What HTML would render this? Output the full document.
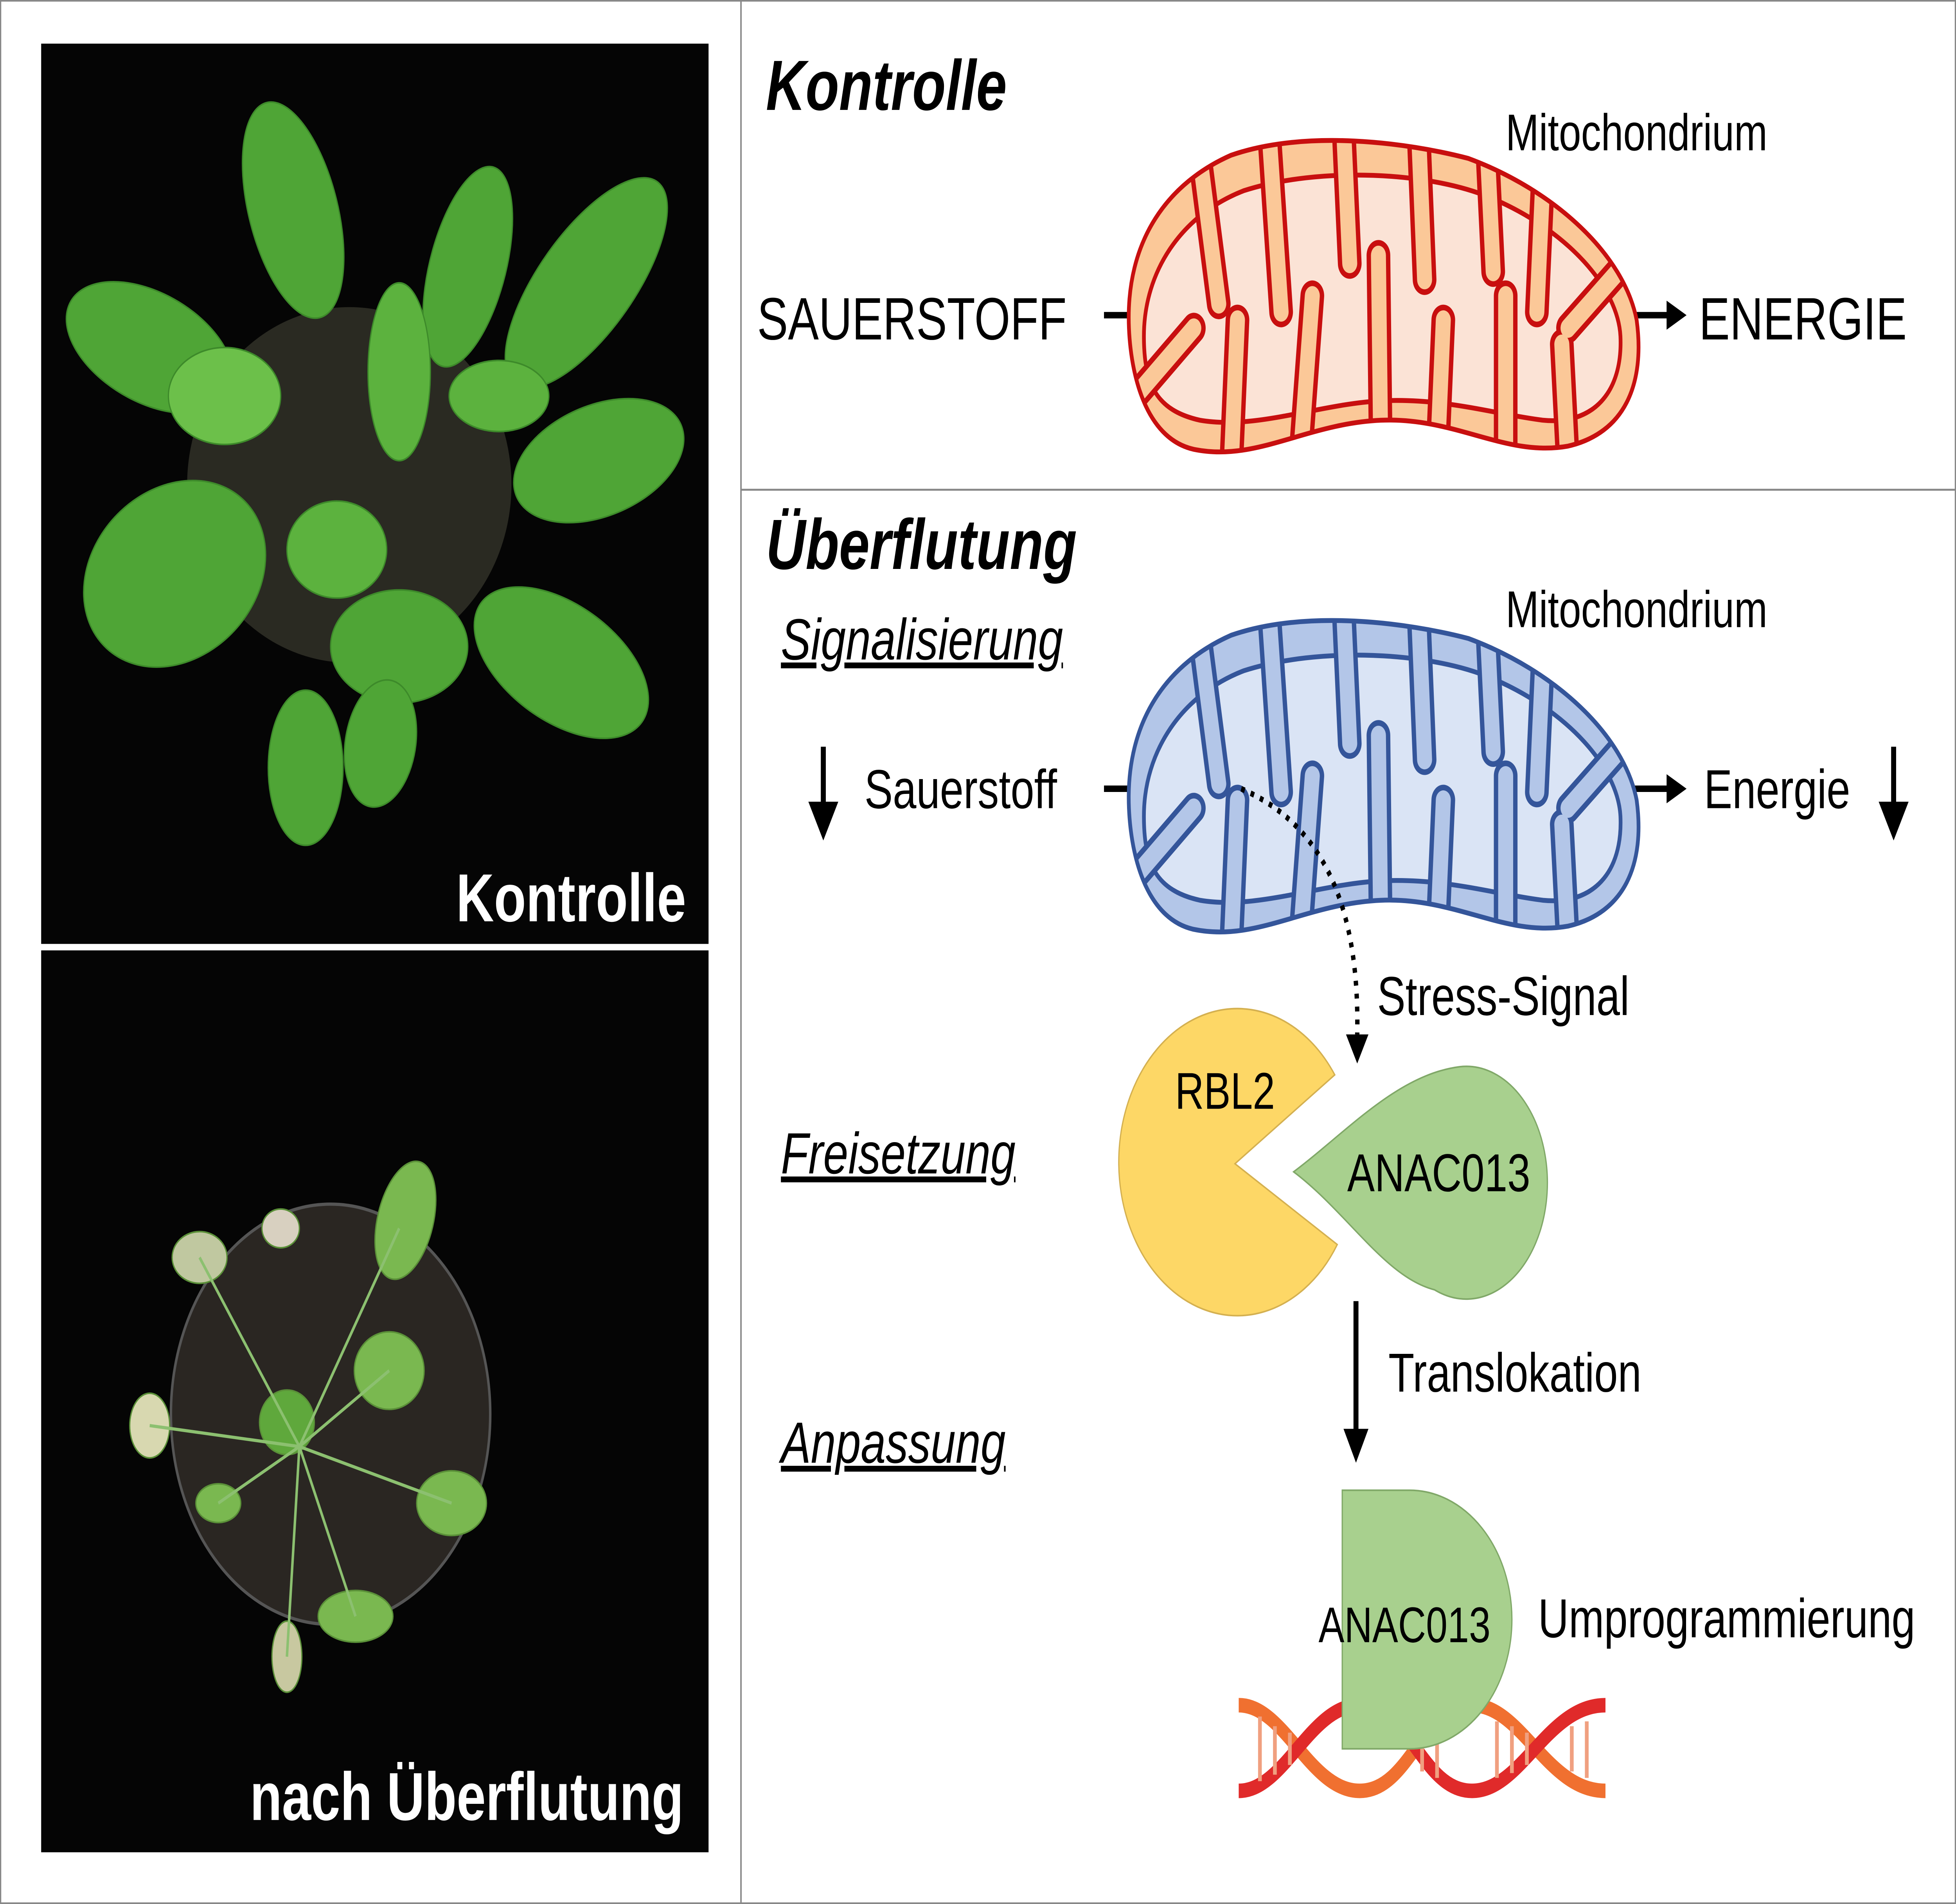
<!DOCTYPE html>
<html><head><meta charset="utf-8"><style>
html,body{margin:0;padding:0;background:#fff;overflow:hidden;width:100%;height:100%;}
svg{display:block;width:100vw;height:100vh;}
text{font-family:"Liberation Sans",Arial,sans-serif;}
</style></head><body>
<svg viewBox="0 0 1568 1178" preserveAspectRatio="none" xmlns="http://www.w3.org/2000/svg">
<defs>
<path id="mshape" d="M-202,15 C-205,-40 -170,-75 -120,-92 C-60,-108 20,-100 70,-90 C140,-70 195,-30 205,10 C212,50 195,80 150,88 C100,95 60,70 0,72 C-60,74 -100,98 -150,90 C-185,84 -200,50 -202,15 Z"/>
<path id="minner" d="M-190,20 C-190,-20 -160,-55 -110,-70 C-50,-85 40,-82 90,-65 C150,-45 190,-10 192,20 C194,55 170,75 130,72 C90,68 50,58 0,60 C-50,62 -100,78 -145,72 C-180,66 -190,50 -190,20 Z"/>
<path id="mfold" d="M-145,-90 L-130,0 M-90,-110 L-80,5 M-30,-110 L-25,-25 M30,-110 L35,-15 M85,-100 L90,-20 M130,-80 L125,5 M190,-20 L150,15 M-200,60 L-150,15 M-120,100 L-115,10 M-65,100 L-55,-5 M0,100 L-2,-30 M45,100 L50,10 M100,100 L100,-5 M150,100 L145,25"/>
<clipPath id="mclip"><use href="#mshape"/></clipPath>
</defs>
<rect x="0.5" y="0.5" width="1567" height="1177" fill="#fff" stroke="#888" stroke-width="1"/>
<line x1="594" y1="0" x2="594" y2="1178" stroke="#888" stroke-width="1.2"/>
<line x1="594" y1="303" x2="1568" y2="303" stroke="#888" stroke-width="1.2"/>

<rect x="33" y="27" width="535" height="557" fill="#050505"/>
<rect x="33" y="588" width="535" height="558" fill="#050505"/>
<g fill="#4fa536" stroke="#3d8a2a" stroke-width="1">
  <ellipse cx="280" cy="300" rx="130" ry="110" fill="#2a2a22" stroke="none"/>
  <ellipse cx="235" cy="130" rx="35" ry="70" transform="rotate(-20 235 130)"/>
  <ellipse cx="375" cy="165" rx="30" ry="65" transform="rotate(20 375 165)"/>
  <ellipse cx="470" cy="175" rx="35" ry="85" transform="rotate(45 470 175)"/>
  <ellipse cx="120" cy="215" rx="70" ry="35" transform="rotate(20 120 215)"/>
  <ellipse cx="480" cy="285" rx="70" ry="35" transform="rotate(-15 480 285)"/>
  <ellipse cx="140" cy="355" rx="75" ry="55" transform="rotate(-20 140 355)"/>
  <ellipse cx="450" cy="410" rx="75" ry="38" transform="rotate(25 450 410)"/>
  <ellipse cx="320" cy="400" rx="55" ry="35"/>
  <ellipse cx="245" cy="475" rx="30" ry="48"/>
  <ellipse cx="305" cy="460" rx="28" ry="40" transform="rotate(15 305 460)"/>
  <ellipse cx="180" cy="245" rx="45" ry="30" fill="#6cc04a"/>
  <ellipse cx="270" cy="340" rx="40" ry="30" fill="#5cb23e"/>
  <ellipse cx="320" cy="230" rx="25" ry="55" fill="#5cb23e"/>
  <ellipse cx="400" cy="245" rx="40" ry="22" fill="#5cb23e"/>
</g>
<g>
  <ellipse cx="265" cy="875" rx="128" ry="130" fill="#2a2622" stroke="#555" stroke-width="2"/>
  <g fill="#7ab850" stroke="#5a9038" stroke-width="1">
    <ellipse cx="325" cy="755" rx="22" ry="38" transform="rotate(20 325 755)"/>
    <ellipse cx="312" cy="848" rx="28" ry="24"/>
    <ellipse cx="362" cy="930" rx="28" ry="20"/>
    <ellipse cx="285" cy="1000" rx="30" ry="16"/>
    <ellipse cx="230" cy="880" rx="22" ry="20" fill="#5fa83c"/>
    <ellipse cx="175" cy="930" rx="18" ry="12"/>
    <ellipse cx="230" cy="1025" rx="12" ry="22" fill="#c8c8a0"/>
    <ellipse cx="160" cy="778" rx="22" ry="16" fill="#c0c8a0"/>
    <ellipse cx="120" cy="882" rx="16" ry="20" fill="#d8d8b0"/>
    <ellipse cx="225" cy="760" rx="15" ry="12" fill="#d8d0c0"/>
  </g>
  <g stroke="#8cc070" stroke-width="2" fill="none">
    <path d="M240 895 L320 760 M240 895 L312 848 M240 895 L362 930 M240 895 L285 1000 M240 895 L230 1025 M240 895 L160 778 M240 895 L120 882 M240 895 L175 930"/>
  </g>
</g>
<text x="550" y="570" font-size="42" font-weight="bold" fill="#fff" text-anchor="end">Kontrolle</text>
<text x="548" y="1126" font-size="42" font-weight="bold" fill="#fff" text-anchor="end">nach Überflutung</text>

<text x="614" y="68" font-size="44" font-weight="bold" font-style="italic">Kontrolle</text>
<text x="1207" y="93" font-size="32">Mitochondrium</text>
<text x="607" y="210" font-size="37">SAUERSTOFF</text>
<line x1="885" y1="195" x2="905" y2="195" stroke="#000" stroke-width="4"/>
<line x1="1310" y1="195" x2="1338" y2="195" stroke="#000" stroke-width="4"/>
<polygon points="1336,186 1352,195 1336,204" fill="#000"/>
<text x="1362" y="210" font-size="37">ENERGIE</text>

<g transform="translate(1107,188)">
  <use href="#mshape" fill="#fbc898"/>
  <use href="#minner" fill="#fbe3d6" stroke="#c80f0f" stroke-width="3"/>
  <g clip-path="url(#mclip)" stroke-linecap="round" fill="none">
    <use href="#mfold" stroke="#c80f0f" stroke-width="19"/>
    <use href="#mfold" stroke="#fbc898" stroke-width="12"/>
  </g>
  <use href="#mshape" fill="none" stroke="#c80f0f" stroke-width="3"/>
</g>

<text x="614" y="352" font-size="44" font-weight="bold" font-style="italic">Überflutung</text>
<text x="626" y="408" font-size="36" font-style="italic" text-decoration="underline">Signalisierung</text>
<text x="1207" y="388" font-size="32">Mitochondrium</text>
<line x1="660" y1="462" x2="660" y2="500" stroke="#000" stroke-width="4"/>
<polygon points="648,496 672,496 660,520" fill="#000"/>
<text x="693" y="500" font-size="34">Sauerstoff</text>
<line x1="885" y1="488" x2="905" y2="488" stroke="#000" stroke-width="4"/>
<line x1="1310" y1="488" x2="1338" y2="488" stroke="#000" stroke-width="4"/>
<polygon points="1336,479 1352,488 1336,497" fill="#000"/>
<text x="1366" y="500" font-size="34">Energie</text>
<line x1="1518" y1="462" x2="1518" y2="500" stroke="#000" stroke-width="4"/>
<polygon points="1506,496 1530,496 1518,520" fill="#000"/>

<g transform="translate(1107,485)">
  <use href="#mshape" fill="#b3c6e8"/>
  <use href="#minner" fill="#dae4f5" stroke="#34559a" stroke-width="3"/>
  <g clip-path="url(#mclip)" stroke-linecap="round" fill="none">
    <use href="#mfold" stroke="#34559a" stroke-width="19"/>
    <use href="#mfold" stroke="#b3c6e8" stroke-width="12"/>
  </g>
  <use href="#mshape" fill="none" stroke="#34559a" stroke-width="3"/>
</g>

<path d="M995,488 C1060,510 1090,560 1088,640" fill="none" stroke="#000" stroke-width="3.5" stroke-dasharray="3,5"/>
<polygon points="1079,640 1097,640 1088,658" fill="#000"/>
<text x="1104" y="628" font-size="34">Stress-Signal</text>

<text x="626" y="726" font-size="36" font-style="italic" text-decoration="underline">Freisetzung</text>
<path d="M990,720 L1070,665 A95,95 0 1,0 1072,770 Z" fill="#fdd766" stroke="#d4b050" stroke-width="1"/>
<text x="942" y="686" font-size="32">RBL2</text>
<path d="M1037,725 C1080,700 1120,665 1170,660 A65,72 0 1,1 1150,798 C1110,790 1080,750 1037,725 Z" fill="#a8d08e" stroke="#80a868" stroke-width="1"/>
<text x="1080" y="737" font-size="33">ANAC013</text>

<line x1="1087" y1="805" x2="1087" y2="888" stroke="#000" stroke-width="4"/>
<polygon points="1077,884 1097,884 1087,905" fill="#000"/>
<text x="1113" y="861" font-size="34">Translokation</text>

<text x="626" y="905" font-size="36" font-style="italic" text-decoration="underline">Anpassung</text>

<g fill="none" stroke-width="9">
  <path d="M993,1055 C1030,1055 1050,1108 1090,1108 C1130,1108 1140,1055 1180,1055 C1220,1055 1240,1108 1287,1108" stroke="#f07030"/>
  <path d="M993,1108 C1030,1108 1050,1055 1090,1055 C1130,1055 1140,1108 1180,1108 C1220,1108 1240,1055 1287,1055" stroke="#e02a2a"/>
  <g stroke="#f0a080" stroke-width="3">
    <path d="M1010,1062 V1102 M1022,1068 V1098 M1034,1072 V1092 M1140,1068 V1096 M1152,1065 V1100 M1200,1065 V1100 M1212,1068 V1097 M1224,1072 V1092 M1260,1068 V1096 M1272,1065 V1100"/>
  </g>
</g>
<path d="M1076,922 L1130,922 A82,80 0 0,1 1130,1082 L1076,1082 Z" fill="#a8d08e" stroke="#80a868" stroke-width="1"/>
<text x="1057" y="1016" font-size="31">ANAC013</text>
<text x="1233" y="1013" font-size="34">Umprogrammierung</text>
</svg>
</body></html>
